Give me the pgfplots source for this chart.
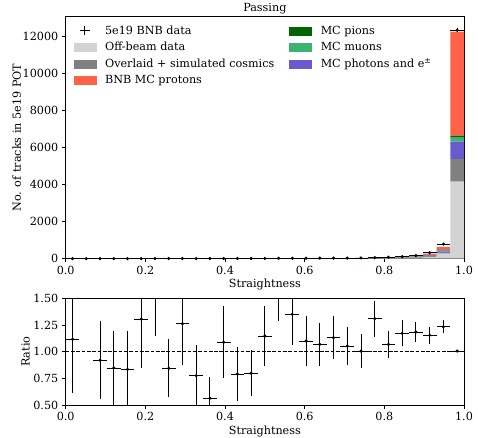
\documentclass[border=0pt]{standalone}
\usepackage{fontspec}
\setmainfont{DejaVu Serif}
\usepackage{pgfplots}
\pgfplotsset{compat=1.18}
\usepackage{pgfplotstable}

\definecolor{offbeam}{RGB}{211,211,211}
\definecolor{cosmic}{RGB}{128,128,128}
\definecolor{proton}{RGB}{255,99,71}
\definecolor{pion}{RGB}{0,100,0}
\definecolor{muon}{RGB}{60,179,113}
\definecolor{photon}{RGB}{106,90,205}

% Simulated contributions per straightness bin (29 bins on [0,1])
\pgfplotstableread{
x       off   cos   pho   mu    pi    pro
0.01724 1.6   0.9   0.7   0.4   0.2   0.7
0.05172 1.0   0.6   0.5   0.3   0.1   0.5
0.08621 2.3   1.3   1.0   0.6   0.3   1.0
0.12069 2.5   1.4   1.1   0.6   0.3   1.1
0.15517 2.1   1.2   0.9   0.5   0.3   1.0
0.18966 2.1   1.2   0.9   0.5   0.3   1.0
0.22414 2.0   1.1   0.9   0.5   0.3   0.9
0.25862 4.1   2.4   1.8   1.0   0.6   1.9
0.29310 2.8   1.6   1.2   0.7   0.4   1.2
0.32759 3.6   2.1   1.5   0.9   0.5   1.7
0.36207 4.9   2.8   2.1   1.2   0.7   2.3
0.39655 3.5   2.0   1.5   0.9   0.5   1.6
0.43103 4.4   2.5   1.9   1.1   0.6   2.2
0.46552 6.1   3.5   2.6   1.5   0.9   2.9
0.50000 5.2   3.0   2.2   1.3   0.7   2.4
0.53448 5.5   3.1   2.3   1.3   0.8   2.6
0.56897 5.6   3.2   2.4   1.4   0.8   2.6
0.60345 7.4   4.2   3.1   1.8   1.0   3.5
0.63793 9.1   5.2   3.9   2.2   1.3   4.3
0.67241 9.5   5.4   4.0   2.3   1.3   4.5
0.70690 11.2  6.4   4.8   2.7   1.6   5.3
0.74138 13.6  7.8   5.9   3.3   2.0   6.4
0.77586 16.1  9.2   6.9   3.9   2.3   7.6
0.81034 26    15    11    6     4     13
0.84483 33    18    14    8     5     16
0.87931 50    28    21    12    7     26
0.91379 100   42    38    12    8     78
0.94828 270   108   72    22    14    156
0.98276 4162  1228  934   216   108   5622
}\mctab

% Beam-on data: counts with bin half-width and Poisson error
\pgfplotstableread{
x       y      ex      ey
0.01724 5      0.01724 2.2
0.05172 0      0.01724 0
0.08621 6      0.01724 2.4
0.12069 6      0.01724 2.4
0.15517 5      0.01724 2.2
0.18966 8      0.01724 2.8
0.22414 10     0.01724 3.2
0.25862 10     0.01724 3.2
0.29310 10     0.01724 3.2
0.32759 8      0.01724 2.8
0.36207 8      0.01724 2.8
0.39655 11     0.01724 3.3
0.43103 10     0.01724 3.2
0.46552 14     0.01724 3.7
0.50000 17     0.01724 4.1
0.53448 25     0.01724 5.0
0.56897 22     0.01724 4.7
0.60345 23     0.01724 4.8
0.63793 28     0.01724 5.3
0.67241 31     0.01724 5.6
0.70690 34     0.01724 5.8
0.74138 39     0.01724 6.2
0.77586 61     0.01724 7.8
0.81034 80     0.01724 8.9
0.84483 110    0.01724 10.5
0.87931 170    0.01724 13.0
0.91379 320    0.01724 17.9
0.94828 790    0.01724 28.1
0.98276 12350  0.01724 111.1
}\datatab

% Data / MC ratio with uncertainties
\pgfplotstableread{
x       r       ex      er
0.01724 1.116   0.01724 0.507
0.08621 0.920   0.01724 0.366
0.12069 0.847   0.01724 0.350
0.15517 0.834   0.01724 0.363
0.18966 1.306   0.01724 0.460
0.22414 1.750   0.01724 0.600
0.25862 0.844   0.01724 0.270
0.29310 1.2625  0.01724 0.390
0.32759 0.775   0.01724 0.290
0.36207 0.5625  0.01724 0.200
0.39655 1.0875  0.01724 0.336
0.43103 0.790   0.01724 0.250
0.46552 0.797   0.01724 0.214
0.50000 1.147   0.01724 0.278
0.53448 1.620   0.01724 0.330
0.56897 1.350   0.01724 0.290
0.60345 1.100   0.01724 0.231
0.63793 1.069   0.01724 0.203
0.67241 1.131   0.01724 0.203
0.70690 1.053   0.01724 0.181
0.74138 1.006   0.01724 0.161
0.77586 1.310   0.01724 0.169
0.81034 1.069   0.01724 0.125
0.84483 1.172   0.01724 0.122
0.87931 1.184   0.01724 0.097
0.91379 1.153   0.01724 0.078
0.94828 1.234   0.01724 0.059
0.98276 1.006   0.01724 0.010
}\ratiotab

\pgfplotsset{
  /pgf/number format/assume math mode=true,
  panel/.style={
    scale only axis, width=398.3pt,
    xmin=0, xmax=1,
    tick align=outside, tick pos=left, major tick length=3.5pt,
    axis line style={line width=0.8pt},
    every tick/.style={black, line width=0.8pt},
    xtick={0,0.2,0.4,0.6,0.8,1},
    xticklabel style={/pgf/number format/.cd, fixed, fixed zerofill, precision=1},
    xlabel={Straightness},
    xlabel style={yshift=3pt},
  },
  errpts/.style={
    black, only marks, mark=*, mark size=1.1pt, line width=0.9pt,
    error bars/.cd, x dir=both, x explicit, y dir=both, y explicit,
    error mark=none, error bar style={line width=0.9pt, black},
  },
  patch/.style={legend image code/.code={\fill[#1] (0pt,-4pt) rectangle (22pt,4pt);}},
}

\begin{document}
\fontsize{11.2}{13.4}\selectfont
\begin{tikzpicture}
\useasboundingbox (0pt,0pt) rectangle (478pt,-437pt);

% Stacked simulation histogram
\begin{axis}[panel,
  at={(65.7pt,-258.7pt)}, anchor=south west, height=242pt,
  ymin=0, ymax=13080,
  ytick={0,2000,4000,6000,8000,10000,12000},
  scaled y ticks=false,
  yticklabel style={/pgf/number format/1000 sep={}},
  ylabel={No. of tracks in 5e19 POT},
  ylabel shift=-6pt,
  title={Passing},
  title style={yshift=-7pt},
  ybar stacked, bar width=0.034483,
  legend style={draw=none, fill=none, at={(0.012,0.98)}, anchor=north west,
    legend columns=2, legend cell align=left, row sep=2.2pt,
    /tikz/every odd column/.append style={column sep=7pt},
    /tikz/every even column/.append style={column sep=13pt}},
]
\addlegendimage{legend image code/.code={\draw[black,line width=0.9pt] (6pt,0pt)--(16pt,0pt) (11pt,-4.5pt)--(11pt,4.5pt);}}
\addlegendentry{5e19 BNB data}
\addlegendimage{patch=pion}
\addlegendentry{MC pions}
\addlegendimage{patch=offbeam}
\addlegendentry{Off-beam data}
\addlegendimage{patch=muon}
\addlegendentry{MC muons}
\addlegendimage{patch=cosmic}
\addlegendentry{Overlaid + simulated cosmics}
\addlegendimage{patch=photon}
\addlegendentry{MC photons and e\textsuperscript{±}}
\addlegendimage{patch=proton}
\addlegendentry{BNB MC protons}

\addplot[fill=offbeam, draw=none] table[x=x, y=off] {\mctab};
\addplot[fill=cosmic,  draw=none] table[x=x, y=cos] {\mctab};
\addplot[fill=photon,  draw=none] table[x=x, y=pho] {\mctab};
\addplot[fill=muon,    draw=none] table[x=x, y=mu]  {\mctab};
\addplot[fill=pion,    draw=none] table[x=x, y=pi]  {\mctab};
\addplot[fill=proton,  draw=none] table[x=x, y=pro] {\mctab};
\end{axis}

% Data points on top of the stack
\begin{axis}[scale only axis, width=398.3pt, height=242pt,
  at={(65.7pt,-258.7pt)}, anchor=south west,
  xmin=0, xmax=1, ymin=0, ymax=13080, hide axis]
\addplot[errpts] table[x=x, y=y, x error=ex, y error=ey] {\datatab};
\end{axis}

% Ratio panel
\begin{axis}[panel,
  at={(65.7pt,-405pt)}, anchor=south west, height=106.7pt,
  ymin=0.5, ymax=1.5,
  ytick={0.5,0.75,1,1.25,1.5},
  yticklabel style={/pgf/number format/.cd, fixed, fixed zerofill, precision=2},
  ylabel={Ratio},
  ylabel shift=-4pt,
]
\addplot[black, line width=0.8pt, dash pattern=on 3.7pt off 1.6pt] coordinates {(0,1) (1,1)};
\addplot[errpts] table[x=x, y=r, x error=ex, y error=er] {\ratiotab};
\end{axis}
\end{tikzpicture}
\end{document}
